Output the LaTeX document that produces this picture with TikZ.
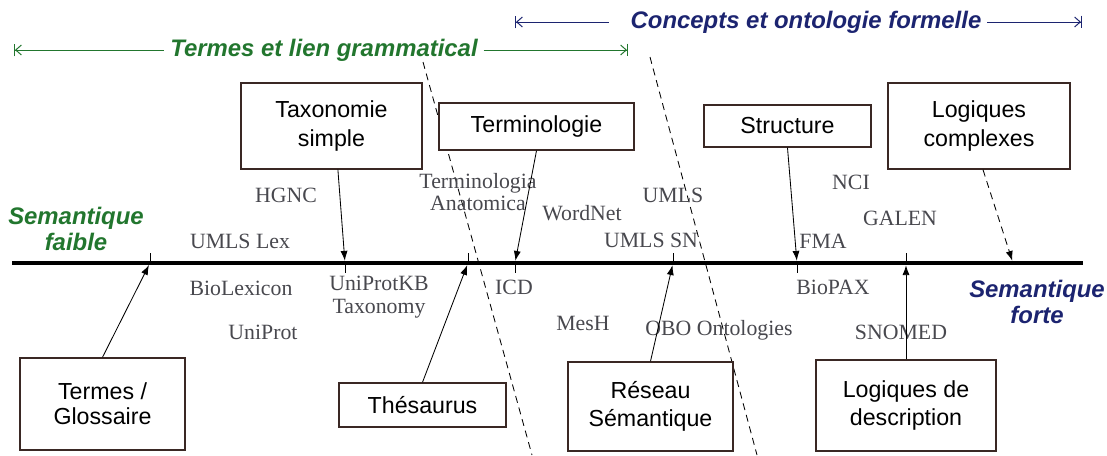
\documentclass[tikz,border=0pt]{standalone}
\usepackage{fontspec}
\setmainfont{Liberation Serif}
\setsansfont{Liberation Sans}
\usetikzlibrary{arrows.meta}
\definecolor{termgreen}{RGB}{34,118,46}
\definecolor{conceptblue}{RGB}{28,36,112}
\definecolor{labelgray}{RGB}{72,72,78}
\definecolor{boxline}{RGB}{58,40,36}
\begin{document}
\begin{tikzpicture}[x=0.025cm, y=-0.025cm,
    kindbox/.style={draw=boxline, line width=1pt, fill=white, align=center, inner sep=0pt, font=\fontsize{16.5}{20}\sffamily},
    lbl/.style={text=labelgray, align=center, inner sep=1pt, font=\fontsize{15.5}{16}\selectfont},
    ptr/.style={-{Latex[length=7pt,width=5pt]}, line width=0.6pt, shorten >=1.6pt},
    tickmark/.style={line width=0.6pt},
    sepline/.style={dash pattern=on 5pt off 3.5pt, line width=0.6pt},
    spanline/.style={line width=0.7pt},
    spanstart/.style={{Bar[width=9pt]Straight Barb[length=4pt,width=7pt]}-},
    spanend/.style={-{Straight Barb[length=4pt,width=7pt]Bar[width=9pt]}},
    strongtext/.style={font=\fontsize{17}{19}\sffamily\bfseries\itshape, align=center, inner sep=0pt},
]
    \useasboundingbox (0,0) rectangle (1107,455);

    % Ranges
    \coordinate (gL) at (14,50);
    \coordinate (gR) at (628,50);
    \node[strongtext, text=termgreen, inner xsep=4pt] (gtitle) at (324,50) {Termes et lien grammatical};
    \draw[spanline, termgreen, spanstart] (gL) -- (gtitle.west);
    \draw[spanline, termgreen, spanend] (gtitle.east) -- (gR);

    \coordinate (bL) at (515,22);
    \coordinate (bR) at (1082,22);
    \node[strongtext, text=conceptblue, inner xsep=4pt] (btitle) at (806,22) {Concepts et ontologie formelle};
    \draw[spanline, conceptblue, spanstart] (bL) -- ([xshift=-11pt]btitle.west);
    \draw[spanline, conceptblue, spanend] (btitle.east) -- (bR);

    % Separators
    \draw[sepline] (423,62) -- (532,455);
    \draw[sepline] (650,57) -- (757,455);

    % Axis
    \coordinate (axL) at (12,263);
    \coordinate (axR) at (1083,263);
    \draw[line width=3.5pt] (axL) -- (axR);
    \node[strongtext, text=termgreen] (faible) at (76,229) {Semantique\\faible};
    \node[strongtext, text=conceptblue] (forte) at (1037,302) {Semantique\\forte};

    % Points on the axis
    \coordinate (pGlos) at (150,263);
    \coordinate (pTaxo) at (345,263);
    \coordinate (pThes) at (468,263);
    \coordinate (pTerm) at (515,263);
    \coordinate (pRes) at (673,263);
    \coordinate (pStruct) at (797,263);
    \coordinate (pDesc) at (906,263);
    \coordinate (pComp) at (1013,263);
    \draw[tickmark] (pGlos) -- ++(0,-10);
    \draw[tickmark] (pThes) -- ++(0,-10);
    \draw[tickmark] (pRes) -- ++(0,-10);
    \draw[tickmark] (pDesc) -- ++(0,-10);
    \draw[tickmark] (pTaxo) -- ++(0,10);
    \draw[tickmark] (pTerm) -- ++(0,10);
    \draw[tickmark] (pStruct) -- ++(0,10);

    % Resources
    \node[lbl] (hgnc) at (286,195) {HGNC};
    \node[lbl] (umlslex) at (240,241) {UMLS Lex};
    \node[lbl] (biolex) at (241,288) {BioLexicon};
    \node[lbl] (uniprot) at (263,332) {UniProt};
    \node[lbl] (uniprotkb) at (379,297) {UniProtKB\\Taxonomy};
    \node[lbl] (anatomica) at (478,192) {Terminologia\\Anatomica};
    \node[lbl] (wordnet) at (582,213) {WordNet};
    \node[lbl] (umls) at (673,195) {UMLS};
    \node[lbl] (umlssn) at (651,240) {UMLS SN};
    \node[lbl] (icd) at (514,287) {ICD};
    \node[lbl] (mesh) at (583,323) {MesH};
    \node[lbl] (obo) at (719,330) {OBO Ontologies};
    \node[lbl] (nci) at (851,182) {NCI};
    \node[lbl] (galen) at (900,218) {GALEN};
    \node[lbl] (fma) at (823,241) {FMA};
    \node[lbl] (biopax) at (833,287) {BioPAX};
    \node[lbl] (snomed) at (901,332) {SNOMED};

    % Kinds of models
    \node[kindbox, minimum width=4.125cm, minimum height=2.3cm, font=\fontsize{16.5}{18}\sffamily] (glossaire) at (102.5,404) {Termes /\\Glossaire};
    \node[kindbox, minimum width=4.525cm, minimum height=2.15cm] (taxo) at (331.5,126) {Taxonomie\\simple};
    \node[kindbox, minimum width=4.175cm, minimum height=1.1cm] (thes) at (422.5,405) {Thésaurus};
    \node[kindbox, minimum width=4.875cm, minimum height=1.175cm] (termino) at (536.5,126.5) {Terminologie};
    \node[kindbox, minimum width=4.125cm, minimum height=2.225cm] (reseau) at (650.5,406.5) {Réseau\\Sémantique};
    \node[kindbox, minimum width=4.175cm, minimum height=1.05cm] (struct) at (787.5,126) {Structure};
    \node[kindbox, minimum width=4.5cm, minimum height=2.275cm] (logdesc) at (906,405.5) {Logiques de\\description};
    \node[kindbox, minimum width=4.55cm, minimum height=2.15cm] (logcomp) at (979,126) {Logiques\\complexes};

    % Pointers
    \draw[ptr] (glossaire.north) -- (pGlos);
    \draw[ptr] ([xshift=0.16cm]taxo.south) -- (pTaxo);
    \draw[ptr] (thes.north) -- (pThes);
    \draw[ptr] (termino.south) -- (pTerm);
    \draw[ptr] (reseau.north) -- (pRes);
    \draw[ptr] (struct.south) -- (pStruct);
    \draw[ptr] (logdesc.north) -- (pDesc);
    \draw[ptr, sepline] ([xshift=0.1cm]logcomp.south) -- (pComp);
\end{tikzpicture}
\end{document}
